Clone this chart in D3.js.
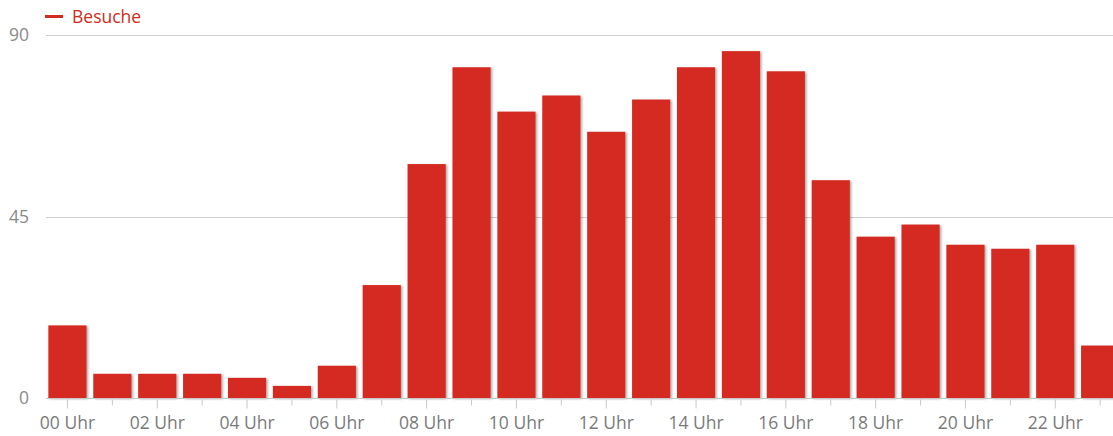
<!DOCTYPE html>
<html>
<head>
<meta charset="utf-8">
<script src="https://cdn.jsdelivr.net/npm/d3@7"></script>
<style>
  body { margin: 0; background: #fff; }
  text { font-family: "Open Sans", sans-serif; }
</style>
</head>
<body>
<div id="chart"></div>
<script>
// visits per hour
var hours = d3.range(24);
var besuche = [18, 6, 6, 6, 5, 3, 8, 28, 58, 82, 71, 75, 66, 74, 82, 86, 81, 54, 40, 43, 38, 37, 38, 13];
var yTicks = [0, 45, 90];
var seriesName = 'Besuche';

function hourLabel(h) {
    return (h < 10 ? '0' + h : '' + h) + ' Uhr';
}

function draw_chart(id) {
    var width = 1113, height = 436;
    var left = 45, top = 35, bottom = 398;
    var barColor = '#d42b20';
    var fontSize = '17.5px';

    var svg = d3.select(id).append('svg')
        .attr('width', width)
        .attr('height', height);

    var defs = svg.append('defs');
    var f = defs.append('filter').attr('id', 'shadow')
        .attr('x', '-10%').attr('y', '-10%').attr('width', '130%').attr('height', '130%');
    f.append('feDropShadow')
        .attr('dx', 1.5).attr('dy', 1)
        .attr('stdDeviation', 1)
        .attr('flood-color', '#000')
        .attr('flood-opacity', 0.35);

    var x = d3.scaleBand()
        .domain(hours)
        .range([left, left + 24 * 44.9])
        .paddingInner(0.15)
        .paddingOuter(0.075);

    var y = d3.scaleLinear()
        .domain([0, 90])
        .range([bottom, top]);

    // grid lines
    svg.append('g').selectAll('line')
        .data(yTicks.filter(function (d) { return d > 0; }))
        .enter().append('line')
        .attr('x1', left + 1).attr('x2', width)
        .attr('y1', function (d) { return Math.round(y(d)) + 0.5; })
        .attr('y2', function (d) { return Math.round(y(d)) + 0.5; })
        .attr('stroke', '#cfcfcf')
        .attr('stroke-width', 1);

    // y labels
    svg.append('g').selectAll('text')
        .data(yTicks)
        .enter().append('text')
        .attr('x', 29)
        .attr('y', function (d) { return y(d); })
        .attr('dy', '0.35em')
        .attr('text-anchor', 'end')
        .style('font-size', fontSize)
        .attr('fill', '#8a8a8a')
        .text(function (d) { return d; });

    // bars
    svg.append('g').selectAll('rect')
        .data(besuche)
        .enter().append('rect')
        .attr('x', function (d, i) { return x(hours[i]); })
        .attr('y', function (d) { return y(d); })
        .attr('width', x.bandwidth())
        .attr('height', function (d) { return bottom - y(d); })
        .attr('fill', barColor)
        .attr('filter', 'url(#shadow)');

    // x axis
    var xAxis = d3.axisBottom(x)
        .tickSize(6)
        .tickFormat(function (d) { return d % 2 === 0 ? hourLabel(d) : ''; });

    var gx = svg.append('g')
        .attr('transform', 'translate(0,' + (bottom + 0.5) + ')')
        .call(xAxis);
    gx.select('.domain')
        .attr('d', 'M' + (left + 1) + ',0H' + width)
        .attr('stroke', '#c8c8c8');
    gx.selectAll('.tick line')
        .attr('stroke', '#c8c8c8')
        .attr('y1', 1)
        .attr('y2', function (d) { return d % 2 === 0 ? 10 : 7; });
    gx.selectAll('.tick text')
        .attr('y', 24.5)
        .attr('dy', '0.35em')
        .attr('fill', '#7a7a7a')
        .style('font-size', fontSize)
        .style('font-family', '"Open Sans", sans-serif');

    // legend
    var lg = svg.append('g');
    lg.append('line')
        .attr('x1', 45).attr('x2', 63)
        .attr('y1', 16.5).attr('y2', 16.5)
        .attr('stroke', barColor)
        .attr('stroke-width', 3);
    lg.append('text')
        .attr('x', 72).attr('y', 17)
        .attr('dy', '0.35em')
        .style('font-size', fontSize)
        .attr('fill', barColor)
        .text(seriesName);
}

draw_chart('#chart');
</script>
</body>
</html>
